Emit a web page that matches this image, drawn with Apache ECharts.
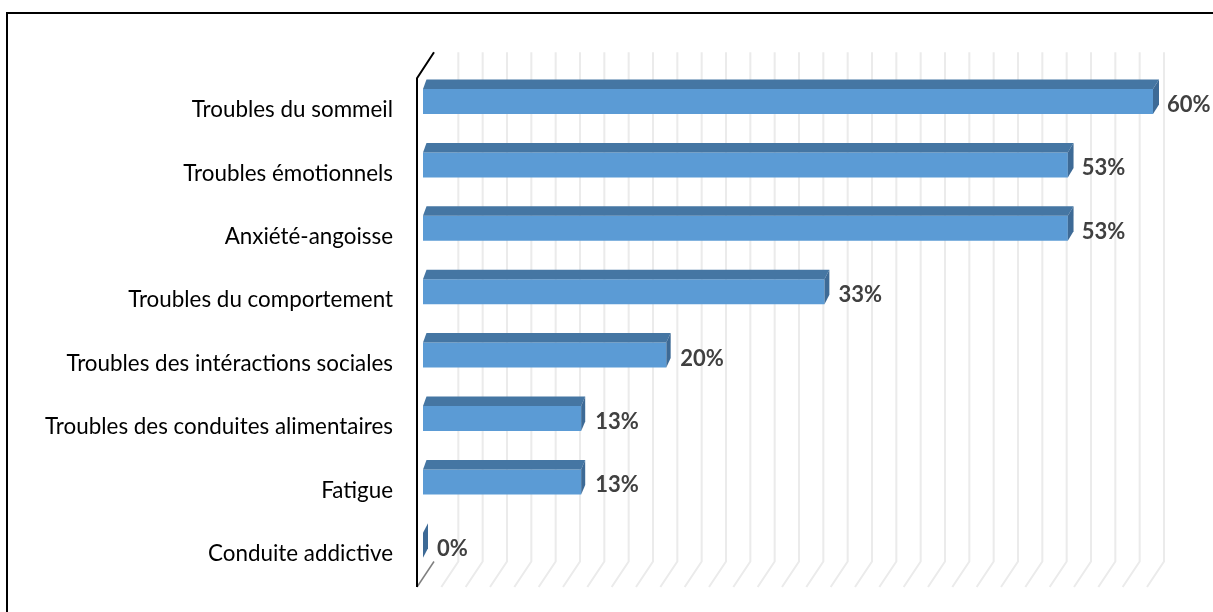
<!DOCTYPE html>
<html><head><meta charset="utf-8">
<script src="https://cdn.jsdelivr.net/npm/echarts@6/dist/echarts.min.js"></script>
<style>html,body{margin:0;padding:0;background:#fff}#c{width:1213px;height:612px}</style>
</head><body><div id="c"></div>
<script>
var categories = ["Troubles du sommeil","Troubles émotionnels","Anxiété-angoisse","Troubles du comportement","Troubles des intéractions sociales","Troubles des conduites alimentaires","Fatigue","Conduite addictive"];
var values = [60, 53, 53, 33, 20, 13, 13, 0];
var axisMax = 60;
var gridStep = 2;
var gridValues = [];
for (var g = 0; g <= axisMax; g += gridStep) gridValues.push([g]);

var chart = echarts.init(document.getElementById('c'), null, {renderer:'canvas'});
var FRONT = '#5b9bd5', TOP = '#4576a3', SIDE = '#3d6a96';

chart.setOption({
  animation: false,
  graphic: [{type:'rect', shape:{x:7,y:13,width:1240,height:640}, style:{fill:'none', stroke:'#000', lineWidth:2}, z:0}],
  grid: {left: 423, width: 730, top: 78.3, height: 507.2},
  xAxis: {type:'value', min:0, max:axisMax, interval:gridStep, show:false},
  yAxis: {type:'category', data: categories, inverse:true,
    axisLine:{show:false}, axisTick:{show:false}, splitLine:{show:false},
    axisLabel:{margin:30, color:'#000', fontFamily:'Lato', fontSize:22.4, padding:[4,0,0,0]}},
  series: [
    {type:'custom', z:1, data: gridValues, encode:{x:0},
     renderItem: function(params, api){
       var cs = params.coordSys;
       var v = api.value(0);
       var xf = api.coord([v, 0])[0];
       var topY = cs.y - 26, backBot = cs.y + cs.height - 24, frontBot = cs.y + cs.height + 1.5;
       var children = [{type:'polyline', shape:{points:[[xf+11, topY],[xf+11, backBot],[xf-6, frontBot]]},
         style:{stroke:'#ebebeb', lineWidth:2, fill:null}}];
       if (v === 0) {
         children = [
           {type:'polyline', shape:{points:[[xf+11, backBot],[xf-6, frontBot]]}, style:{stroke:'#7f7f7f', lineWidth:1.5, fill:null}},
           {type:'polyline', shape:{points:[[xf-6, frontBot],[xf-6, cs.y],[xf+11, topY]]}, style:{stroke:'#000', lineWidth:2, fill:null}}
         ];
       }
       return {type:'group', children: children};
     }},
    {type:'custom', z:3, data: values.map(function(v,i){return [v,i];}), encode:{x:0,y:1},
     renderItem: function(params, api){
       var v = api.value(0), c = api.value(1);
       var p0 = api.coord([0, c]), p1 = api.coord([v, c]), pm = api.coord([axisMax, c]);
       var cy = p0[1], xl = p0[0], xr = p1[0];
       var dxl = 3.5, dxr = 3.5 + 2.5*(xr-xl)/(pm[0]-xl);
       if (xr - xl < 0.5) dxr = 5;
       var yt = cy-21, yb = cy+4, ys = 9.5;
       var ch = [];
       if (xr - xl > 0.5) {
         ch.push({type:'rect', shape:{x:xl, y:yt, width:xr-xl, height:yb-yt}, style:{fill:FRONT}});
         ch.push({type:'polygon', shape:{points:[[xl,yt],[xr,yt],[xr+dxr,yt-ys],[xl+dxl,yt-ys]]}, style:{fill:TOP}});
       }
       ch.push({type:'polygon', shape:{points:[[xr,yt],[xr,yb],[xr+dxr,yb-ys],[xr+dxr,yt-ys]]}, style:{fill:SIDE}});
       ch.push({type:'text', x: xr+14, y: cy-5, style:{text: v+'%', fill:'#404040', font:'bold 22px Lato', verticalAlign:'middle', align:'left'}});
       return {type:'group', children: ch};
     }}
  ]
});
</script></body></html>
